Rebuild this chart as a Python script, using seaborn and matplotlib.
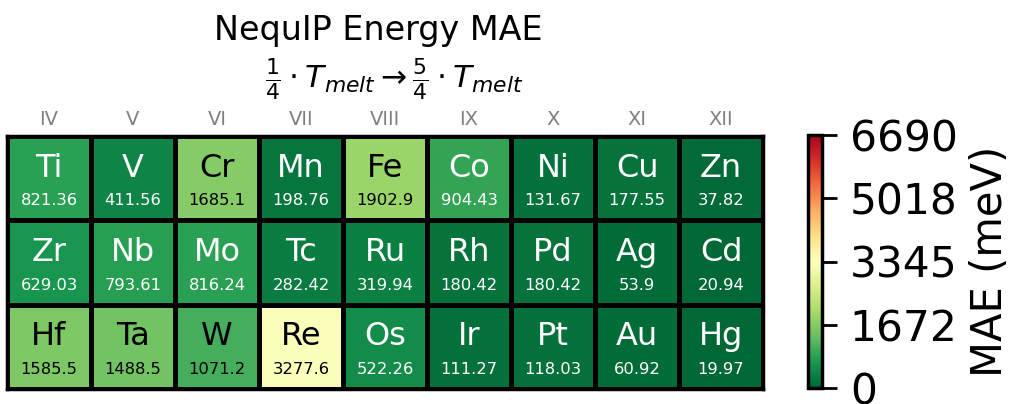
import numpy as np
import pandas as pd
import matplotlib
matplotlib.use("Agg")
import matplotlib.pyplot as plt
import seaborn as sns

# groups (columns) and elements (rows = periods 4, 5, 6)
groups = ["IV", "V", "VI", "VII", "VIII", "IX", "X", "XI", "XII"]
period4 = ["Ti", "V", "Cr", "Mn", "Fe", "Co", "Ni", "Cu", "Zn"]
period5 = ["Zr", "Nb", "Mo", "Tc", "Ru", "Rh", "Pd", "Ag", "Cd"]
period6 = ["Hf", "Ta", "W", "Re", "Os", "Ir", "Pt", "Au", "Hg"]

# energy MAE (meV)
mae4 = [821.36, 411.56, 1685.1, 198.76, 1902.9, 904.43, 131.67, 177.55, 37.82]
mae5 = [629.03, 793.61, 816.24, 282.42, 319.94, 180.42, 180.42, 53.9, 20.94]
mae6 = [1585.5, 1488.5, 1071.2, 3277.6, 522.26, 111.27, 118.03, 60.92, 19.97]
value_labels4 = ["821.36", "411.56", "1685.1", "198.76", "1902.9", "904.43", "131.67", "177.55", "37.82"]
value_labels5 = ["629.03", "793.61", "816.24", "282.42", "319.94", "180.42", "180.42", "53.9", "20.94"]
value_labels6 = ["1585.5", "1488.5", "1071.2", "3277.6", "522.26", "111.27", "118.03", "60.92", "19.97"]

vmax = 6690
cbar_ticks = [0, 1672.5, 3345, 5017.5, 6690]
cbar_ticklabels = ["0", "1672", "3345", "5018", "6690"]

df = pd.DataFrame([mae4, mae5, mae6], columns=groups)
symbols = [period4, period5, period6]
labels = [value_labels4, value_labels5, value_labels6]

fig = plt.figure(figsize=(10.16, 4.04), dpi=100)
ax = fig.add_axes([7 / 1016, 1 - 389 / 404, 756 / 1016, 253 / 404])
cax = fig.add_axes([808 / 1016, 1 - 388 / 404, 14 / 1016, 253 / 404])

sns.heatmap(df, ax=ax, cmap="RdYlGn_r", vmin=0, vmax=vmax,
            linewidths=2.5, linecolor="black", cbar_ax=cax,
            xticklabels=groups, yticklabels=False)

for i in range(3):
    for j in range(9):
        v = df.iloc[i, j]
        c = "white" if v < 1000 else "black"
        ax.text(j + 0.5, i + 0.38, symbols[i][j], ha="center", va="center",
                fontsize=23, color=c)
        ax.text(j + 0.5, i + 0.77, labels[i][j], ha="center", va="center",
                fontsize=11.8, color=c)

for s in ax.spines.values():
    s.set_visible(True)
    s.set_linewidth(2.5)
    s.set_color("black")

ax.xaxis.tick_top()
ax.tick_params(axis="x", length=0, labelsize=14, labelcolor="gray", pad=5)
ax.set_xlabel("")
ax.set_ylabel("")

fig.text(0.372, 0.925, "NequIP Energy MAE", ha="center", va="center", fontsize=24)
fig.text(0.388, 0.805, r"$\frac{1}{4}\cdot T_{melt}\rightarrow\frac{5}{4}\cdot T_{melt}$",
         ha="center", va="center", fontsize=22.5)

cbar = ax.collections[0].colorbar
cbar.set_ticks(cbar_ticks)
cbar.set_ticklabels(cbar_ticklabels)
cbar.ax.tick_params(labelsize=30.5, length=11, width=2, pad=9)
cbar.outline.set_linewidth(2.5)
cbar.outline.set_edgecolor("black")
cbar.set_label("MAE (meV)", fontsize=30, labelpad=8)

fig.savefig("out.png", dpi=100)
